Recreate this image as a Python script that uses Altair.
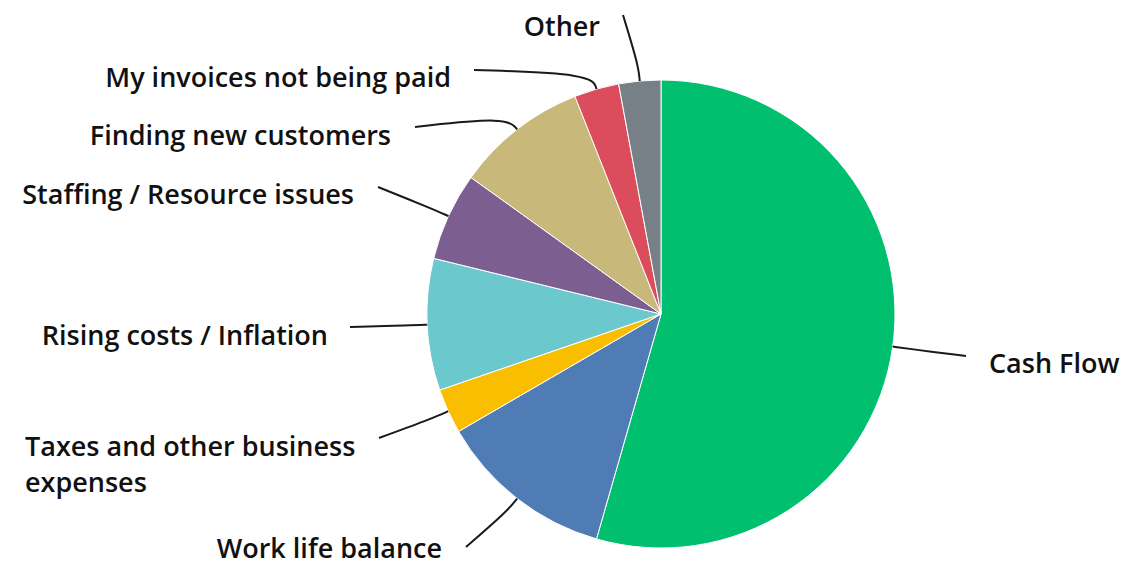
import math
import altair as alt
import pandas as pd

# ---- data ----
categories = [
    "Cash Flow",
    "Work life balance",
    "Taxes and other business expenses",
    "Rising costs / Inflation",
    "Staffing / Resource issues",
    "Finding new customers",
    "My invoices not being paid",
    "Other",
]
shares = [54.5, 12.2, 3.1, 9.1, 6.1, 9.1, 3.1, 2.9]
label_texts = [
    "Cash Flow",
    "Work life balance",
    "Taxes and other business\nexpenses",
    "Rising costs / Inflation",
    "Staffing / Resource issues",
    "Finding new customers",
    "My invoices not being paid",
    "Other",
]

# ---- styles ----
colors = ["#00BF6F", "#507CB6", "#F9BE00", "#6BC8CD", "#7D5E90", "#C8B87A", "#DB4D5D", "#768086"]

# ---- layout (pie centre / radius and label placement) ----
CX, CY, R = 653, 306, 234
ELBOW = 16
# text anchor x, y, alignment, leader end x, y
label_layout = [
    (981, 357, "left", 958, 348),
    (434, 542, "right", 458, 539),
    (17, 440, "left", 371, 430),
    (320, 329, "right", 342, 319),
    (346, 188, "right", 370, 179),
    (383, 129, "right", 407, 119),
    (443, 71, "right", 466, 62),
    (592, 20, "right", 615, 7),
]

pie_df = pd.DataFrame({"category": categories, "share": shares, "order": list(range(len(categories)))})

total = sum(shares)
rows = []
text_rows = []
cum = 0.0
for i, (cat, s) in enumerate(zip(categories, shares)):
    mid = (cum + s / 2) / total * 2 * math.pi
    cum += s
    tx, ty, al, lx, ly = label_layout[i]
    pts = [
        (CX + R * math.sin(mid), CY - R * math.cos(mid)),
        (CX + (R + ELBOW) * math.sin(mid), CY - (R + ELBOW) * math.cos(mid)),
        (lx, ly),
    ]
    for k, (px, py) in enumerate(pts):
        rows.append({"category": cat, "seq": k, "px": px, "py": py})
    text_rows.append({"category": cat, "label": label_texts[i], "tx": tx, "ty": ty, "align": al})

line_df = pd.DataFrame(rows)
text_df = pd.DataFrame(text_rows)

arc = alt.Chart(pie_df).mark_arc(outerRadius=R, stroke="white", strokeWidth=1).encode(
    theta=alt.Theta("share:Q", stack=True),
    color=alt.Color("category:N", scale=alt.Scale(domain=categories, range=colors), legend=None),
    order=alt.Order("order:Q"),
    x=alt.value(CX),
    y=alt.value(CY),
)

lines = alt.Chart(line_df).mark_line(color="#1a1a1a", strokeWidth=2, interpolate="basis").encode(
    x=alt.X("px:Q", scale=None),
    y=alt.Y("py:Q", scale=None),
    detail="category:N",
    order="seq:Q",
)

text_common = dict(baseline="middle", font="Open Sans", fontSize=27, fontWeight=600,
                   color="#111111", lineBreak="\n", lineHeight=36)

text_right = alt.Chart(text_df).transform_filter(alt.datum.align == "right").mark_text(
    align="right", **text_common
).encode(x=alt.X("tx:Q", scale=None), y=alt.Y("ty:Q", scale=None), text="label:N")

text_left = alt.Chart(text_df).transform_filter(alt.datum.align == "left").mark_text(
    align="left", **text_common
).encode(x=alt.X("tx:Q", scale=None), y=alt.Y("ty:Q", scale=None), text="label:N")

chart = alt.layer(arc, lines, text_right, text_left).properties(
    width=1115, height=557, padding=0, autosize=alt.AutoSizeParams(type="none")
).configure_view(stroke=None)

chart.save("out.html", embed_options={"renderer": "svg", "actions": False})
